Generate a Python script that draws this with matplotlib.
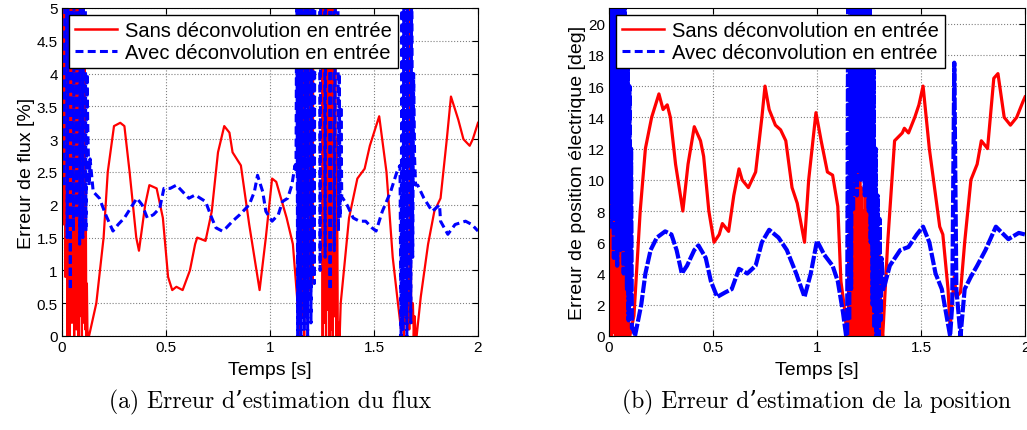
import numpy as np
import matplotlib.pyplot as plt
from matplotlib.lines import Line2D
from matplotlib.ticker import FormatStrFormatter, MultipleLocator

plt.rcParams['font.family'] = ['Liberation Sans', 'DejaVu Sans']

# ---------------- (a) flux error [%] ----------------
# red : "Sans deconvolution en entree"   (values > 5 are off the chart)
flux_sans_burst1 = [2.4, 6, 1.7, 6, 2.3, 6, 0.9, 6, 1.6, 6, 0.0, 6, 0.6, 6, 0.0, 6, 1.4, 6, 0.2, 6,
                    0.9, 6, 0.0, 6, 0.4, 6, 0.1, 6, 0.7, 6, 0.0, 6, 0.3, 6, 0.5, 6, 0.0, 6, 0.2, 6,
                    0.6, 4.2, 0.1, 2.2, 0.0, 0.8, 0.1, 0.0]
flux_sans_t1 = [0.13, 0.165, 0.2, 0.22, 0.25, 0.28, 0.30, 0.325, 0.357, 0.37, 0.40, 0.42, 0.455, 0.485,
                0.51, 0.53, 0.55, 0.58, 0.615, 0.64, 0.65, 0.69, 0.72, 0.75, 0.78, 0.805, 0.82, 0.86,
                0.90, 0.95, 0.98, 1.01, 1.03, 1.08, 1.11, 1.13]
flux_sans_y1 = [0.0, 0.5, 1.5, 2.5, 3.2, 3.25, 3.2, 2.5, 1.5, 1.3, 2.0, 2.3, 2.25, 1.8,
                0.9, 0.7, 0.75, 0.7, 1.0, 1.4, 1.5, 1.45, 1.9, 2.8, 3.2, 3.1, 2.8, 2.6,
                1.7, 0.7, 1.5, 2.4, 2.35, 1.8, 1.4, 0.6]
flux_sans_burst2 = [0.0, 6, 0.1, 6, 0.3, 6, 0.0, 6,
                    8, 8, 8, 6,
                    0.7, 6, 0.6, 6, 0.8, 6,
                    8, 8, 8, 8, 8, 8, 8, 8, 8, 6,
                    0.0, 6, 0.2, 6, 0.0, 6, 0.4, 6, 0.0, 6, 0.1, 6, 0.0, 6, 0.3, 6,
                    0.0, 3.0, 0.0, 0.2]
flux_sans_t2 = [1.335, 1.34, 1.38, 1.42, 1.455, 1.48, 1.50, 1.525, 1.56, 1.59, 1.615, 1.63]
flux_sans_y2 = [0.0, 0.5, 1.8, 2.4, 2.55, 2.9, 3.1, 3.35, 2.5, 1.2, 0.5, 0.1]
flux_sans_burst3 = [0.1, 0.4, 0.0, 0.8, 0.2, 0.5, 0.3, 0.9, 0.1, 6, 0.6, 0.2, 0.5, 0.0, 0.3, 0.0]
flux_sans_t3 = [1.705, 1.725, 1.76, 1.79, 1.82, 1.85, 1.87, 1.905, 1.93, 1.96, 1.975, 2.0]
flux_sans_y3 = [0.0, 0.6, 1.4, 1.9, 2.1, 3.0, 3.65, 3.3, 3.0, 2.9, 3.0, 3.25]

# blue : "Avec deconvolution en entree"
flux_avec_burst1 = [2.3, 6, 8, 1.5, 6, 8, 0.7, 8, 8, 1.6, 8, 8, 1.8, 8, 8, 1.4, 8, 8, 1.5, 8,
                    8, 1.6, 4.0, 3.0, 2.3]
flux_avec_t1 = [0.135, 0.15, 0.18, 0.21, 0.245, 0.27, 0.30, 0.33, 0.36, 0.385, 0.41, 0.44, 0.47,
                0.49, 0.52, 0.55, 0.58, 0.61, 0.64, 0.69, 0.72, 0.74, 0.77, 0.79, 0.82, 0.855,
                0.90, 0.925, 0.94, 0.965, 0.98, 1.01, 1.04, 1.06, 1.085, 1.105, 1.12]
flux_avec_y1 = [2.7, 2.2, 2.1, 1.85, 1.6, 1.7, 1.8, 1.95, 2.1, 2.0, 1.8, 1.85, 1.95,
                2.25, 2.25, 2.3, 2.2, 2.1, 2.15, 2.05, 1.8, 1.65, 1.6, 1.65, 1.75, 1.85,
                2.0, 2.2, 2.45, 2.2, 1.9, 1.75, 1.85, 2.05, 2.1, 2.3, 2.6]
flux_avec_burst2 = [2.5,
                    6, 0.0, 6, 0.2, 6, 0.0, 6, 0.5, 6, 0.1, 6, 0.3, 6, 0.0, 6, 0.6, 6, 0.2, 6, 0.9,
                    8, 0.8, 8, 8, 8, 8, 8, 8, 1.0, 8, 8, 8, 8, 8, 1.2, 8, 8, 8, 8, 8,
                    0.7, 8, 8, 8, 8, 1.3, 4.2, 8, 8, 8, 1.6, 4.0, 1.8, 3.5, 2.1]
flux_avec_t2 = [1.35, 1.37, 1.40, 1.43, 1.46, 1.49, 1.51, 1.54, 1.58, 1.61, 1.625]
flux_avec_y2 = [2.1, 2.0, 1.8, 1.75, 1.75, 1.65, 1.6, 1.9, 2.2, 2.5, 2.6]
flux_avec_burst3 = [0.0, 6, 0.1, 6, 0.3, 6, 0.0, 6, 0.5, 6, 0.2, 6, 1.2, 4.0, 2.7, 2.3]
flux_avec_t3 = [1.71, 1.74, 1.78, 1.815, 1.82, 1.855, 1.89, 1.94, 1.97, 2.0]
flux_avec_y3 = [2.3, 2.1, 1.9, 2.0, 1.75, 1.55, 1.7, 1.75, 1.7, 1.6]

# ---------------- (b) position error [deg] ----------------
pos_sans_burst1 = [13, 0, 20.5, 0.5, 7, 0, 6.5, 0.3, 18, 0.8, 6, 0.2, 5.5, 0, 7, 0.4, 12, 0, 6.5, 0.2,
                   5, 0, 9, 0.3, 6, 0, 7.5, 0.1, 5.5, 0, 6, 0.5, 8, 0, 4.5, 0.2, 7, 0, 5, 0]
pos_sans_t1 = [0.10, 0.12, 0.15, 0.175, 0.205, 0.24, 0.26, 0.28, 0.295, 0.32, 0.355, 0.38, 0.41,
               0.44, 0.455, 0.48, 0.505, 0.53, 0.545, 0.575, 0.60, 0.625, 0.64, 0.67, 0.705, 0.735,
               0.75, 0.77, 0.80, 0.825, 0.85, 0.88, 0.905, 0.94, 0.96, 0.995, 1.02, 1.035, 1.05,
               1.075, 1.10, 1.115, 1.13, 1.145]
pos_sans_y1 = [0.0, 1.3, 8.0, 12.0, 14.0, 15.5, 14.5, 14.8, 14.0, 11.0, 8.0, 11.0, 13.4,
               12.5, 11.5, 8.0, 6.0, 6.5, 7.2, 6.7, 9.0, 10.7, 10.0, 9.5, 10.5, 14.0,
               16.0, 14.5, 13.5, 13.2, 12.5, 9.5, 8.5, 6.0, 10.0, 14.3, 12.5, 11.5, 10.5,
               10.3, 8.3, 3.5, 2.0, 0.0]
pos_sans_burst2 = [0, 6, 0.3, 8.5, 0, 7, 0.5, 10.5, 0, 9, 0.2, 6.5, 0, 11, 0.4, 8, 0, 13, 0.3, 9.5,
                   0, 8, 0.5, 7, 0, 9, 0.2, 6, 0, 8.5, 0.3, 7.5, 0, 9, 0.1, 8, 0, 6.5, 0.4, 10,
                   0, 7, 0.2, 5, 0, 6, 0.3, 4, 0, 0.5]
pos_sans_t2 = [1.316, 1.34, 1.373, 1.41, 1.42, 1.44, 1.47, 1.49, 1.51, 1.54, 1.57, 1.59, 1.605,
               1.63, 1.64, 1.66, 1.67, 1.69, 1.71, 1.74, 1.77, 1.79, 1.82, 1.85, 1.87, 1.90,
               1.93, 1.96, 1.99, 2.0]
pos_sans_y2 = [0.0, 6.0, 12.5, 13.0, 13.3, 13.0, 14.0, 14.8, 16.0, 12.0, 9.0, 7.0, 6.5,
               3.0, 0.5, 3.8, 2.5, 2.8, 6.0, 10.0, 11.0, 12.5, 12.0, 16.5, 16.8, 14.0,
               13.5, 14.0, 15.0, 15.3]

pos_avec_burst1 = [15, 21.5, 7, 21.5, 9, 21.5, 5, 21.5, 8, 21.5, 4.5, 21.5, 7, 21.5, 5.5, 21.5,
                   8, 21.5, 4, 21.5, 6, 20, 3, 18, 1, 16, 2, 12, 0.5]
pos_avec_t1 = [0.115, 0.125, 0.155, 0.175, 0.2, 0.23, 0.27, 0.3, 0.325, 0.35, 0.375, 0.41, 0.43,
               0.465, 0.49, 0.52, 0.56, 0.59, 0.625, 0.665, 0.705, 0.735, 0.77, 0.815, 0.855,
               0.9, 0.94, 0.97, 1.0, 1.035, 1.075, 1.1, 1.125, 1.14]
pos_avec_y1 = [0.5, 0.0, 2.0, 4.0, 5.5, 6.3, 6.7, 6.5, 5.5, 4.0, 4.5, 5.5, 5.8,
               5.0, 3.5, 2.5, 2.8, 3.0, 4.3, 4.0, 4.5, 6.0, 6.8, 6.3, 5.5,
               4.0, 2.5, 4.0, 6.1, 5.2, 4.5, 3.5, 1.5, 0.0]
pos_avec_burst2 = [0, 21.5, 1, 21.5, 3, 21.5, 8, 21.5, 10, 21.5, 9, 21.5, 11, 21.5, 10, 21.5,
                   12, 21.5, 9, 21.5, 11, 21.5, 8, 21.5, 6, 19, 2, 17, 0.5, 12, 0, 9, 0, 7.5, 1, 5]
pos_avec_t2 = [1.32, 1.35, 1.40, 1.44, 1.48, 1.51, 1.54, 1.57, 1.60, 1.62, 1.64,
               1.65, 1.66, 1.67, 1.69,
               1.71, 1.74, 1.77, 1.81, 1.86, 1.92, 1.97, 2.0]
pos_avec_y2 = [3.0, 4.5, 5.5, 5.7, 6.5, 7.0, 6.0, 4.0, 3.0, 1.5, 0.0,
               2.0, 17.5, 3.0, 0.0,
               3.0, 3.8, 4.5, 5.5, 7.0, 6.2, 6.6, 6.5]

labels = ['Sans déconvolution en entrée', 'Avec déconvolution en entrée']
captions = ['(a) Erreur d\u2019estimation du flux', '(b) Erreur d\u2019estimation de la position']


def burst(t0, t1, vals):
    return np.linspace(t0, t1, len(vals)), np.array(vals, float)


def assemble(*parts):
    t = np.concatenate([np.asarray(p[0], float) for p in parts])
    y = np.concatenate([np.asarray(p[1], float) for p in parts])
    return t, y


flux_sans = assemble(burst(0.0, 0.125, flux_sans_burst1), (flux_sans_t1, flux_sans_y1),
                     burst(1.14, 1.33, flux_sans_burst2), (flux_sans_t2, flux_sans_y2),
                     burst(1.635, 1.70, flux_sans_burst3), (flux_sans_t3, flux_sans_y3))
flux_avec = assemble(burst(0.01, 0.13, flux_avec_burst1), (flux_avec_t1, flux_avec_y1),
                     burst(1.125, 1.345, flux_avec_burst2), (flux_avec_t2, flux_avec_y2),
                     burst(1.63, 1.70, flux_avec_burst3), (flux_avec_t3, flux_avec_y3))
pos_sans = assemble(burst(0.0, 0.095, pos_sans_burst1), (pos_sans_t1, pos_sans_y1),
                    burst(1.15, 1.31, pos_sans_burst2), (pos_sans_t2, pos_sans_y2))
pos_avec = assemble(burst(0.0, 0.11, pos_avec_burst1), (pos_avec_t1, pos_avec_y1),
                    burst(1.145, 1.31, pos_avec_burst2), (pos_avec_t2, pos_avec_y2))

fig = plt.figure(figsize=(10.27, 4.31), dpi=100)
ax1 = fig.add_axes([62 / 1027, 1 - 337 / 431, 416 / 1027, 328 / 431])
ax2 = fig.add_axes([609 / 1027, 1 - 337 / 431, 416 / 1027, 328 / 431])

handles = [Line2D([], [], color='red', linewidth=1.8),
           Line2D([], [], color='blue', linewidth=2.2, dashes=(2.6, 1.4))]


def style(ax, ymax, ystep, ylabel):
    ax.set_xlim(0, 2)
    ax.set_ylim(0, ymax)
    ax.xaxis.set_major_locator(MultipleLocator(0.5))
    ax.yaxis.set_major_locator(MultipleLocator(ystep))
    ax.xaxis.set_major_formatter(FormatStrFormatter('%g'))
    ax.yaxis.set_major_formatter(FormatStrFormatter('%g'))
    ax.grid(True, linestyle=':', color='#808080', linewidth=0.8)
    ax.tick_params(direction='in', top=True, right=True, labelsize=11, length=4, pad=3)
    ax.set_xlabel('Temps [s]', fontsize=14, labelpad=5)
    ax.set_ylabel(ylabel, fontsize=14, labelpad=1)
    for s in ax.spines.values():
        s.set_linewidth(0.8)
    leg = ax.legend(handles, labels, loc='upper left', fontsize=14.5, frameon=True, fancybox=False,
                    edgecolor='black', framealpha=1, borderpad=0.3, labelspacing=0.15,
                    handlelength=2.1, handletextpad=0.4, borderaxespad=0.35)
    leg.get_frame().set_linewidth(1.0)


ax1.plot(*flux_sans, color='red', linewidth=1.6)
ax1.plot(*flux_avec, color='blue', linewidth=2.2, dashes=(2.6, 1.4))
style(ax1, 5, 0.5, 'Erreur de flux [%]')

ax2.plot(*pos_sans, color='red', linewidth=2.3)
ax2.plot(*pos_avec, color='blue', linewidth=3.0, dashes=(3.0, 0.5))
style(ax2, 21, 2, 'Erreur de position électrique [deg]')

for ax, cap in zip([ax1, ax2], captions):
    pos = ax.get_position()
    fig.text((pos.x0 + pos.x1) / 2, 1 - 402 / 431, cap, ha='center', va='center',
             fontsize=17, family=['cmr10', 'DejaVu Serif'])

fig.savefig('out.png', dpi=100)
